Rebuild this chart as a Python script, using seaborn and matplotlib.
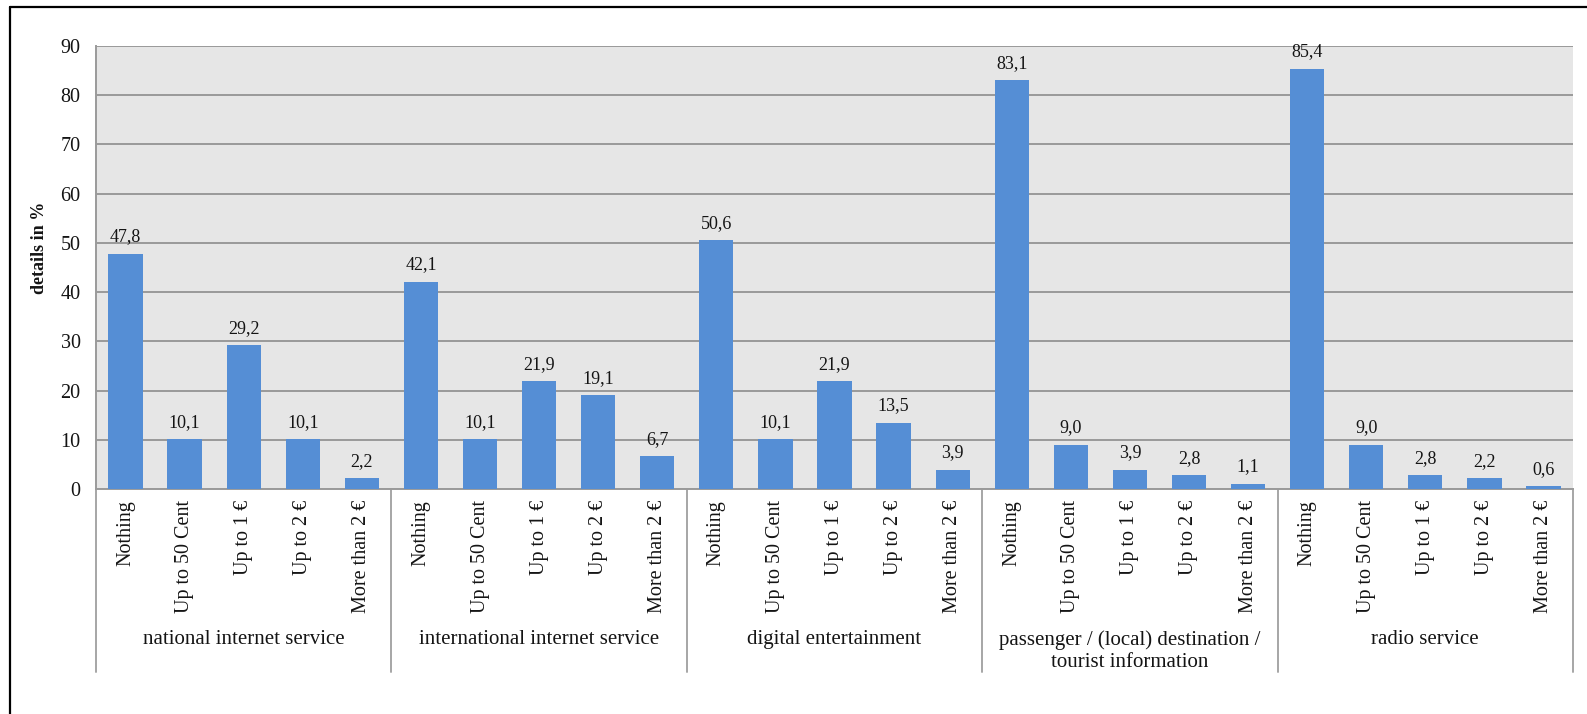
import matplotlib
matplotlib.use("Agg")
import matplotlib.pyplot as plt
import matplotlib.transforms as mtransforms
from matplotlib.lines import Line2D
import seaborn as sns
import pandas as pd

# Survey answers: how much passengers would pay for each on-board service
groups = [
    "national internet service",
    "international internet service",
    "digital entertainment",
    "passenger / (local) destination /\ntourist information",
    "radio service",
]
price_levels = ["Nothing", "Up to 50 Cent", "Up to 1 €", "Up to 2 €", "More than 2 €"]

national_internet = [47.8, 10.1, 29.2, 10.1, 2.2]
international_internet = [42.1, 10.1, 21.9, 19.1, 6.7]
digital_entertainment = [50.6, 10.1, 21.9, 13.5, 3.9]
tourist_information = [83.1, 9.0, 3.9, 2.8, 1.1]
radio_service = [85.4, 9.0, 2.8, 2.2, 0.6]

y_ticks = [0, 10, 20, 30, 40, 50, 60, 70, 80, 90]

series = [national_internet, international_internet, digital_entertainment,
          tourist_information, radio_service]

rows = []
for g, vals in zip(groups, series):
    for lvl, v in zip(price_levels, vals):
        rows.append({"group": g, "level": lvl, "value": v})
df = pd.DataFrame(rows)
df["pos"] = range(len(df))

sns.set_theme(style="white")
plt.rcParams["font.family"] = ["Liberation Serif", "DejaVu Serif"]
text_color = "#141414"

W, H = 1587, 714
fig = plt.figure(figsize=(W / 100, H / 100), dpi=100)
ax_left, ax_right, ax_top, ax_bot = 96, 1573, 46, 489
ax = fig.add_axes([ax_left / W, 1 - ax_bot / H, (ax_right - ax_left) / W, (ax_bot - ax_top) / H])
ax.set_facecolor("#E6E6E6")

sns.barplot(data=df, x="pos", y="value", color="#558ED5", saturation=1,
            width=0.58, ax=ax, zorder=3, linewidth=0, edgecolor="none")

ax.set_xlim(-0.5, len(df) - 0.5)
ax.set_ylim(0, 90)
ax.set_yticks(y_ticks)
ax.set_yticklabels([str(t) for t in y_ticks], fontsize=14.5, color=text_color)
ax.yaxis.grid(True, color="#8C8C8C", linewidth=1.2, zorder=0)
ax.set_axisbelow(True)
ax.tick_params(axis="y", length=0, pad=11)
ax.tick_params(axis="x", length=0, pad=8)
ax.set_xticks(df["pos"])
ax.set_xticklabels(df["level"], rotation=90, fontsize=14.5, color=text_color, va="top")
ax.set_xlabel("")
ax.set_ylabel("")

for side in ["top", "right"]:
    ax.spines[side].set_visible(False)
for side in ["left", "bottom"]:
    ax.spines[side].set_color("#9A9A9A")
    ax.spines[side].set_linewidth(1.4)

# value labels with decimal comma
for container in ax.containers:
    labels = [f"{v:.1f}".replace(".", ",") for v in df["value"]]
    ax.bar_label(container, labels=labels, padding=6, fontsize=13, color=text_color)

# group separators and group names below the category labels
trans = mtransforms.blended_transform_factory(ax.transData, ax.transAxes)
sep_bottom = -(672 - ax_bot) / (ax_bot - ax_top)
n = len(price_levels)
for k in range(len(groups) + 1):
    ax.add_line(Line2D([k * n - 0.5, k * n - 0.5], [0, sep_bottom], transform=trans,
                       color="#A6A6A6", linewidth=1.4, clip_on=False))
label_top = -(630 - ax_bot) / (ax_bot - ax_top)
for k, g in enumerate(groups):
    ax.text(k * n + (n - 1) / 2, label_top, g, transform=trans, ha="center", va="top",
            fontsize=15, linespacing=1.2, color=text_color)

fig.text(40 / W, 1 - 248 / H, "details in %", rotation=90, ha="center", va="center",
         fontsize=13, fontweight="bold", color=text_color)

# outer frame lines
fig.add_artist(Line2D([10 / W, 1], [1 - 7 / H, 1 - 7 / H], transform=fig.transFigure,
                      color="black", linewidth=1.6))
fig.add_artist(Line2D([10 / W, 10 / W], [0, 1 - 7 / H], transform=fig.transFigure,
                      color="black", linewidth=1.6))

fig.savefig("out.png", dpi=100)
